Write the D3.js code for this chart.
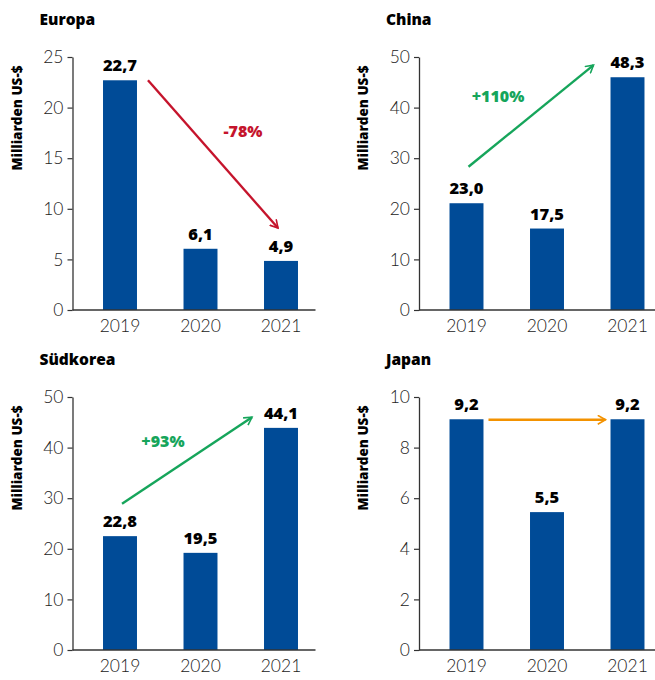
<!DOCTYPE html>
<html>
<head>
<meta charset="utf-8">
<script src="https://cdn.jsdelivr.net/npm/d3@7"></script>
<style>
  body { margin: 0; background: #fff; }
  svg { display: block; font-family: Lato, "Open Sans", sans-serif; }
  .bold { font-family: "Open Sans", Lato, sans-serif; }
</style>
</head>
<body>
<div id="chart"></div>
<script>
// data
var years = ["2019", "2020", "2021"];

var europaValues = [22.7, 6.05, 4.85];
var europaLabels = ["22,7", "6,1", "4,9"];
var chinaValues = [21.1, 16.1, 46.0];
var chinaLabels = ["23,0", "17,5", "48,3"];
var suedkoreaValues = [22.5, 19.2, 43.9];
var suedkoreaLabels = ["22,8", "19,5", "44,1"];
var japanValues = [9.12, 5.45, 9.12];
var japanLabels = ["9,2", "5,5", "9,2"];

var yMaxes = [25, 50, 50, 10];
var yTickSteps = [5, 10, 10, 2];
var titles = ["Europa", "China", "Südkorea", "Japan"];

// arrow: start value, end value, label
var europaArrow = [22.7, 8.1, "-78%"];
var chinaArrow = [28.3, 48.4, "+110%"];
var suedkoreaArrow = [28.9, 46.0, "+93%"];
var japanArrow = [9.1, 9.1, ""];

var blue = "#004b97";
var arrowColors = { red: "#c5142c", green: "#16a55b", orange: "#f39200" };

var svg = d3.select("#chart").append("svg")
  .attr("width", 655)
  .attr("height", 680);

var defs = svg.append("defs");
Object.keys(arrowColors).forEach(function (k) {
  defs.append("marker")
    .attr("id", "head-" + k)
    .attr("viewBox", "0 0 10 10")
    .attr("refX", 8).attr("refY", 5)
    .attr("markerWidth", 4.2).attr("markerHeight", 4.2)
    .attr("markerUnits", "strokeWidth")
    .attr("orient", "auto")
    .append("path")
    .attr("d", "M1,1 L8,5 L1,9")
    .attr("fill", "none")
    .attr("stroke", arrowColors[k])
    .attr("stroke-width", 1.6)
    .attr("stroke-linecap", "square");
});

var plotH = 253, plotW = 243;

var panels = [
  { ax: 72.5, top: 57, values: europaValues, labels: europaLabels, arrow: europaArrow, color: "red",
    ax0: function (x) { return x("2019") + x.bandwidth() + 11; }, ax1: function (x) { return x("2021") + 14; },
    lx: 243 - 72.5, ly: 137 - 57 },
  { ax: 419, top: 57, values: chinaValues, labels: chinaLabels, arrow: chinaArrow, color: "green",
    ax0: function (x) { return x("2019") + 19; }, ax1: function (x) { return x("2021") - 17; },
    lx: 498 - 419, ly: 102 - 57 },
  { ax: 72.5, top: 397, values: suedkoreaValues, labels: suedkoreaLabels, arrow: suedkoreaArrow, color: "green",
    ax0: function (x) { return x("2019") + 19; }, ax1: function (x) { return x("2021") - 12; },
    lx: 163 - 72.5, ly: 447 - 397 },
  { ax: 419, top: 397, values: japanValues, labels: japanLabels, arrow: japanArrow, color: "orange",
    ax0: function (x) { return x("2019") + x.bandwidth() + 5; }, ax1: function (x) { return x("2021") - 5; },
    lx: 0, ly: 0 }
];

panels.forEach(function (p, i) {
  var g = svg.append("g")
    .attr("transform", "translate(" + p.ax + "," + p.top + ")");

  var x = d3.scaleBand()
    .domain(years)
    .range([7.25, 248.75])
    .paddingInner(0.578)
    .paddingOuter(0.289);

  var y = d3.scaleLinear()
    .domain([0, yMaxes[i]])
    .range([plotH, 0]);

  // title
  svg.append("text")
    .attr("class", "bold")
    .attr("x", p.ax - 33)
    .attr("y", p.top - 32)
    .attr("font-size", 15.5)
    .attr("font-weight", 800)
    .attr("fill", "#000")
    .text(titles[i]);

  // y label
  svg.append("text")
    .attr("class", "bold")
    .attr("transform", "translate(" + (p.ax - 51) + "," + (p.top + 61) + ")rotate(-90)")
    .attr("text-anchor", "middle")
    .attr("font-size", 13.5)
    .attr("font-weight", 800)
    .attr("fill", "#000")
    .text("Milliarden US-$");

  // bars
  g.selectAll("rect.bar")
    .data(p.values)
    .enter()
    .append("rect")
    .attr("class", "bar")
    .attr("x", function (d, j) { return x(years[j]); })
    .attr("y", function (d) { return y(d); })
    .attr("width", x.bandwidth())
    .attr("height", function (d) { return plotH - y(d); })
    .attr("fill", blue);

  // value labels
  g.selectAll("text.val")
    .data(p.values)
    .enter()
    .append("text")
    .attr("class", "val bold")
    .attr("x", function (d, j) { return x(years[j]) + x.bandwidth() / 2; })
    .attr("y", function (d) { return y(d) - 9; })
    .attr("text-anchor", "middle")
    .attr("font-size", 16.5)
    .attr("font-weight", 800)
    .attr("fill", "#000")
    .text(function (d, j) { return p.labels[j]; });

  // y axis
  var yAxis = g.append("g")
    .call(d3.axisLeft(y)
      .tickValues(d3.range(0, yMaxes[i] + 0.001, yTickSteps[i]))
      .tickSize(5)
      .tickSizeOuter(0)
      .tickPadding(4));
  yAxis.select(".domain").attr("stroke", "#333").attr("stroke-width", 1.3);
  yAxis.selectAll(".tick line").attr("stroke", "#333").attr("stroke-width", 1.2);
  yAxis.selectAll(".tick text")
    .attr("font-size", 17.5)
    .attr("font-weight", 300)
    .attr("fill", "#222")
    .attr("font-family", "Lato, sans-serif");

  // x axis
  var xAxis = g.append("g")
    .attr("transform", "translate(0," + plotH + ")")
    .call(d3.axisBottom(x).tickSize(0).tickSizeOuter(0).tickPadding(10));
  xAxis.select(".domain").attr("d", "M0,0H" + plotW).attr("stroke", "#333").attr("stroke-width", 1.3);
  xAxis.selectAll(".tick text")
    .attr("font-size", 17.5)
    .attr("font-weight", 300)
    .attr("fill", "#222")
    .attr("font-family", "Lato, sans-serif");

  // change arrow
  g.append("line")
    .attr("x1", p.ax0(x))
    .attr("y1", y(p.arrow[0]))
    .attr("x2", p.ax1(x))
    .attr("y2", y(p.arrow[1]))
    .attr("stroke", arrowColors[p.color])
    .attr("stroke-width", 2.4)
    .attr("marker-end", "url(#head-" + p.color + ")");

  if (p.arrow[2]) {
    g.append("text")
      .attr("class", "bold")
      .attr("x", p.lx)
      .attr("y", p.ly)
      .attr("text-anchor", "middle")
      .attr("font-size", 16)
      .attr("font-weight", 800)
      .attr("fill", arrowColors[p.color])
      .text(p.arrow[2]);
  }
});
</script>
</body>
</html>
